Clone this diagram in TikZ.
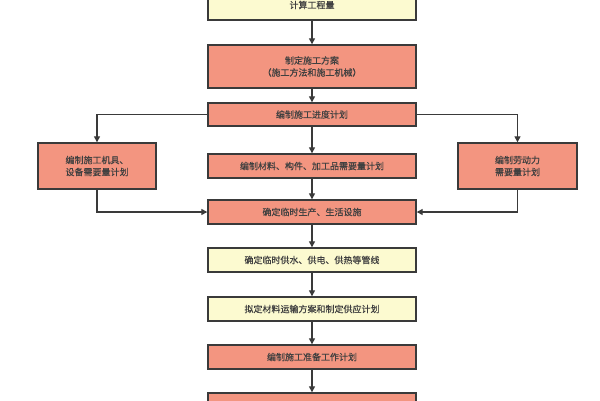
\documentclass[tikz,border=0pt]{standalone}
\usepackage{fontspec}
\setmainfont{Noto Sans CJK SC}[FakeBold=0.6]
\usetikzlibrary{arrows.meta}
\definecolor{rd}{HTML}{F39580}
\definecolor{yl}{HTML}{FCFAD0}
\definecolor{bd}{HTML}{3A3A3A}
\begin{document}
\begin{tikzpicture}[x=1pt,y=-1pt,
  bx/.style={draw=bd,line width=1.4pt,font=\fontsize{9}{12}\selectfont,text=black!75,align=center,inner sep=0pt},
  redbox/.style={bx,fill=rd}, yelbox/.style={bx,fill=yl},
  ar/.style={draw=bd,line width=1.3pt,-{Triangle[length=6pt,width=6pt]}}]
\useasboundingbox (0,0) rectangle (600,400);
\node[yelbox,minimum width=208,minimum height=30] (b1) at (312,5) {\raisebox{-3pt}{计算工程量}};
\node[redbox,minimum width=208,minimum height=43] (b2) at (312,66.5) {制定施工方案\\（施工方法和施工机械）};
\node[redbox,minimum width=208,minimum height=23] (b3) at (312,114.5) {编制施工进度计划};
\node[redbox,minimum width=208,minimum height=24] (b4) at (312,166) {编制材料、构件、加工品需要量计划};
\node[redbox,minimum width=118,minimum height=46] (bl) at (97,166) {编制施工机具、\\设备需要量计划};
\node[redbox,minimum width=119,minimum height=46] (br) at (517.5,166) {编制劳动力\\需要量计划};
\node[redbox,minimum width=208,minimum height=24] (b5) at (312,212) {确定临时生产、生活设施};
\node[yelbox,minimum width=208,minimum height=24] (b6) at (312,260) {确定临时供水、供电、供热等管线};
\node[yelbox,minimum width=208,minimum height=24] (b7) at (312,309) {拟定材料运输方案和制定供应计划};
\node[redbox,minimum width=208,minimum height=24] (b8) at (312,357) {编制施工准备工作计划};
\node[redbox,minimum width=208,minimum height=24] (b9) at (312,405) {};
\draw[ar] (b1) -- (b2);
\draw[ar] (b2) -- (b3);
\draw[ar] (b3) -- (b4);
\draw[ar] (b4) -- (b5);
\draw[ar] (b5) -- (b6);
\draw[ar] (b6) -- (b7);
\draw[ar] (b7) -- (b8);
\draw[ar] (b8) -- (b9);
\draw[ar] (b3.west) -| (bl.north);
\draw[ar] (b3.east) -| (br.north);
\draw[ar] (bl.south) |- (b5.west);
\draw[ar] (br.south) |- (b5.east);
\end{tikzpicture}
\end{document}
